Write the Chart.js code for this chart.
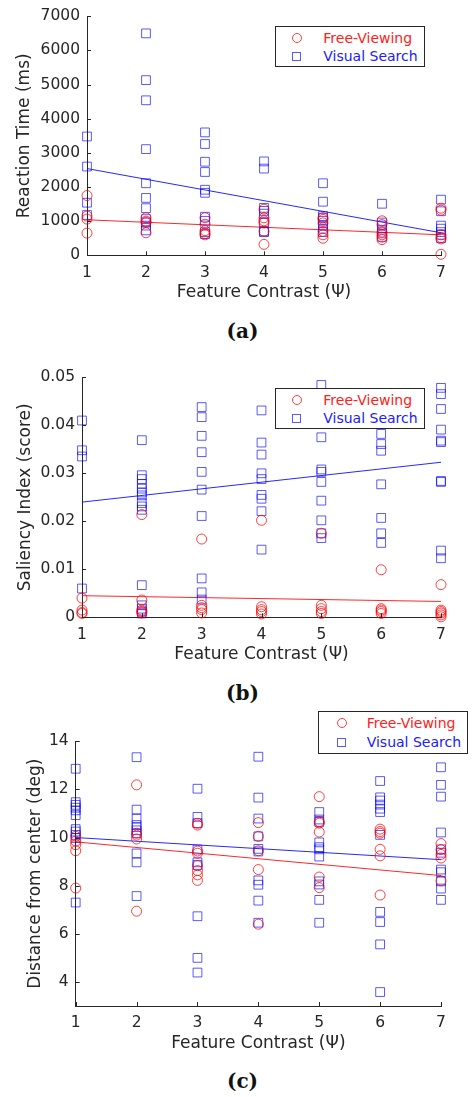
<!DOCTYPE html>
<html>
<head>
<meta charset="utf-8">
<script src="https://cdn.jsdelivr.net/npm/chart.js@4.4.0/dist/chart.umd.min.js"></script>
<style>
  body { margin: 0; background: #fff; width: 472px; height: 1097px; position: relative; overflow: hidden; font-family: "DejaVu Sans", sans-serif; }
  canvas { position: absolute; left: 0; }
  .legend { position: absolute; width: 150px; background: #fff; border: 1px solid #262626; box-sizing: border-box; font-size: 14px; }
  .legend .mk { position: absolute; box-sizing: border-box; border: 1px solid; }
  .legend .tx { position: absolute; line-height: 16px; white-space: nowrap; }
  .caption { position: absolute; width: 80px; text-align: center; font-family: "DejaVu Serif", serif; font-weight: bold; font-size: 20px; color: #111; }
</style>
</head>
<body>
<canvas id="rt"></canvas>
<canvas id="sal"></canvas>
<canvas id="dist"></canvas>

<script>
// feature contrast levels (x categories)
const contrast = [1, 2, 3, 4, 5, 6, 7];
const seriesNames = ['Free-Viewing', 'Visual Search'];
const xTitle = 'Feature Contrast (\u03A8)';
const fitX = [1, 7];

// (a) reaction time, ms, one list per contrast level
const rtFree = [
  [1750, 1150, 1060, 650],
  [1100, 1000, 960, 660],
  [1100, 910, 720, 640, 600],
  [1350, 1100, 1010, 950, 700, 320],
  [1100, 1050, 950, 700, 600, 500],
  [1010, 900, 680, 600, 530, 460],
  [1380, 1320, 600, 520, 480, 30]
];
const rtSearch = [
  [3480, 2600, 1540, 1180],
  [6500, 5130, 4540, 3110, 2110, 1680, 1380, 1060, 960, 870, 730],
  [3600, 3260, 2740, 2440, 1920, 1830, 1130, 1010, 680, 620],
  [2750, 2540, 1390, 1300, 1220, 960, 700, 680],
  [2110, 1570, 1150, 1100, 1010, 870, 780, 680],
  [1510, 960, 870, 750, 640, 540],
  [1630, 1290, 870, 780, 680, 600, 500]
];
const rtFreeFit = [1040, 600];
const rtSearchFit = [2540, 660];
const rtTicks = [0, 1000, 2000, 3000, 4000, 5000, 6000, 7000];
const rtTickLabels = ['0', '1000', '2000', '3000', '4000', '5000', '6000', '7000'];

// (b) saliency index
const salFree = [
  [0.004, 0.0015, 0.001, 0.0008],
  [0.0214, 0.0036, 0.0015, 0.0012, 0.0009],
  [0.0163, 0.0025, 0.002, 0.0016, 0.0009],
  [0.0202, 0.0022, 0.0016, 0.0012, 0.0007],
  [0.0175, 0.0025, 0.0018, 0.0012, 0.0008],
  [0.0099, 0.0018, 0.0015, 0.0012, 0.0008],
  [0.0068, 0.0015, 0.0012, 0.0009, 0.0005, 0.0001]
];
const salSearch = [
  [0.041, 0.0348, 0.0335, 0.006],
  [0.0369, 0.0296, 0.0288, 0.0278, 0.0268, 0.026, 0.0254, 0.0238, 0.0231, 0.0224, 0.0067, 0.0025, 0.0018, 0.0012, 0.0008],
  [0.0438, 0.0417, 0.0378, 0.0344, 0.0303, 0.0266, 0.0211, 0.0081, 0.0052, 0.0037],
  [0.0431, 0.0364, 0.0339, 0.03, 0.0288, 0.0255, 0.0247, 0.0221, 0.0141],
  [0.0484, 0.0375, 0.0308, 0.0303, 0.0282, 0.0243, 0.0202, 0.0175, 0.0165],
  [0.0382, 0.0361, 0.0347, 0.0277, 0.0207, 0.0175, 0.0155],
  [0.0478, 0.0465, 0.0434, 0.0391, 0.0368, 0.0365, 0.0284, 0.0282, 0.0139, 0.0123]
];
const salFreeFit = [0.0045, 0.0033];
const salSearchFit = [0.024, 0.0323];
const salTicks = [0, 0.01, 0.02, 0.03, 0.04, 0.05];
const salTickLabels = ['0', '0.01', '0.02', '0.03', '0.04', '0.05'];

// (c) distance from center, deg
const distFree = [
  [10.05, 9.85, 9.7, 9.45, 7.9],
  [12.19, 10.18, 10.1, 9.94, 6.94],
  [10.59, 10.52, 9.44, 9.35, 8.83, 8.63, 8.45, 8.22],
  [10.62, 10.05, 9.45, 8.67, 6.4],
  [11.7, 10.66, 10.6, 10.23, 8.36, 7.92],
  [10.35, 10.25, 10.18, 9.51, 9.24, 7.61],
  [9.75, 9.5, 9.3, 9.15, 8.2]
];
const distSearch = [
  [12.86, 11.47, 11.36, 11.24, 11.13, 10.93, 10.35, 10.25, 10.11, 9.98, 7.3],
  [13.34, 11.16, 10.79, 10.52, 10.43, 10.3, 10.18, 9.34, 8.97, 7.57],
  [12.03, 10.86, 10.6, 9.5, 8.97, 8.86, 6.73, 5.0, 4.39],
  [13.36, 11.66, 10.79, 10.05, 9.53, 9.42, 8.22, 8.04, 7.38, 6.46],
  [11.06, 10.75, 10.65, 9.8, 9.6, 9.51, 9.21, 8.18, 8.05, 7.41, 6.46],
  [12.35, 11.67, 11.54, 11.37, 11.2, 11.06, 10.11, 6.91, 6.49, 5.56, 3.58],
  [12.92, 12.19, 11.7, 10.21, 9.51, 9.37, 8.67, 8.56, 8.18, 7.88, 7.41]
];
const distFreeFit = [9.82, 8.42];
const distSearchFit = [10.0, 9.08];
const distTicks = [4, 6, 8, 10, 12, 14];
const distTickLabels = ['4', '6', '8', '10', '12', '14'];

const RED = 'rgba(255,0,0,0.75)';
const BLUE = 'rgba(0,0,255,0.65)';
const AXIS = '#262626';

Chart.defaults.font.family = '"DejaVu Sans", sans-serif';
Chart.defaults.color = AXIS;

function points(groups) {
  const out = [];
  groups.forEach((vals, i) => vals.forEach(v => out.push({ x: contrast[i], y: v })));
  return out;
}
function fitLine(ends) {
  return fitX.map((x, i) => ({ x: x, y: ends[i] }));
}

// MATLAB-style ticks pointing into the plot
const inwardTicks = {
  id: 'inwardTicks',
  afterDatasetsDraw(chart) {
    const { ctx, chartArea: a, scales: { x, y } } = chart;
    ctx.save();
    ctx.strokeStyle = AXIS;
    ctx.lineWidth = 1;
    ctx.beginPath();
    x.ticks.forEach(t => {
      const px = Math.round(x.getPixelForValue(t.value)) + 0.5;
      ctx.moveTo(px, a.bottom);
      ctx.lineTo(px, a.bottom - 4);
    });
    y.ticks.forEach(t => {
      const py = Math.round(y.getPixelForValue(t.value)) + 0.5;
      ctx.moveTo(a.left, py);
      ctx.lineTo(a.left + 4, py);
    });
    ctx.stroke();
    ctx.restore();
  }
};

function makePanel(p) {
  const canvas = document.getElementById(p.id);
  const top = Math.floor(p.areaTop - 11);
  const height = Math.ceil(p.areaBottom + 55 - top);
  const xAxisH = top + height - p.areaBottom;
  canvas.width = 472;
  canvas.height = height;
  canvas.style.top = top + 'px';

  new Chart(canvas.getContext('2d'), {
    type: 'scatter',
    data: {
      datasets: [
        { label: seriesNames[0], data: points(p.free), pointStyle: 'circle', pointRadius: 5, pointBorderWidth: 1,
          borderColor: RED, backgroundColor: 'rgba(0,0,0,0)', clip: false },
        { label: seriesNames[1], data: points(p.search), pointStyle: 'rect', pointRadius: 6.2, pointBorderWidth: 1,
          borderColor: BLUE, backgroundColor: 'rgba(0,0,0,0)', clip: false },
        { label: seriesNames[0] + ' fit', data: fitLine(p.freeFit), showLine: true, pointRadius: 0,
          borderColor: 'rgba(255,0,0,0.85)', borderWidth: 1 },
        { label: seriesNames[1] + ' fit', data: fitLine(p.searchFit), showLine: true, pointRadius: 0,
          borderColor: 'rgba(0,0,255,0.85)', borderWidth: 1 }
      ]
    },
    options: {
      responsive: false,
      animation: false,
      devicePixelRatio: 1,
      layout: { padding: { top: p.areaTop - top, right: 31, bottom: 0, left: 0 } },
      plugins: { legend: { display: false }, tooltip: { enabled: false } },
      scales: {
        x: {
          type: 'linear', min: 1, max: 7,
          afterBuildTicks: s => { s.ticks = contrast.map(v => ({ value: v })); },
          afterFit: s => { s.height = xAxisH; },
          ticks: { padding: 8, font: { size: 15.5 }, color: AXIS, callback: (v, i) => String(contrast[i]) },
          grid: { display: true, drawOnChartArea: false, drawTicks: false },
          border: { display: true, color: AXIS, width: 1 },
          title: { display: true, text: xTitle, font: { size: 17 }, color: AXIS, padding: { top: 0, bottom: xAxisH - 47.4 } }
        },
        y: {
          type: 'linear', min: p.yMin, max: p.yMax,
          afterBuildTicks: s => { s.ticks = p.ticks.map(v => ({ value: v })); },
          afterFit: s => { s.width = p.areaLeft; },
          ticks: { padding: 7, font: { size: 15.5 }, color: AXIS, callback: (v, i) => p.tickLabels[i] },
          grid: { display: true, drawOnChartArea: false, drawTicks: false },
          border: { display: true, color: AXIS, width: 1 },
          title: { display: true, text: p.yTitle, font: { size: 17 }, color: AXIS, padding: { top: p.yTitleX - 10.2, bottom: 0 } }
        }
      }
    },
    plugins: [inwardTicks]
  });

  // legend box
  const lg = document.createElement('div');
  lg.className = 'legend';
  lg.style.left = p.legend[0] + 'px';
  lg.style.top = p.legend[1] + 'px';
  lg.style.height = p.legend[2] + 'px';
  const colors = ['#ff2020', '#2020ff'];
  const rows = [p.legend[3], p.legend[4]];
  seriesNames.forEach((name, i) => {
    const mk = document.createElement('div');
    mk.className = 'mk';
    const size = i === 0 ? 10 : 9;
    mk.style.width = size + 'px';
    mk.style.height = size + 'px';
    mk.style.borderColor = i === 0 ? RED : BLUE;
    if (i === 0) mk.style.borderRadius = '50%';
    mk.style.left = (p.legendMarkX - size / 2 - 1) + 'px';
    mk.style.top = (rows[i] - size / 2 - 1) + 'px';
    lg.appendChild(mk);
    const tx = document.createElement('div');
    tx.className = 'tx';
    tx.textContent = name;
    tx.style.color = colors[i];
    tx.style.left = (p.legendTextX - 1) + 'px';
    tx.style.top = (rows[i] - 9) + 'px';
    lg.appendChild(tx);
  });
  document.body.appendChild(lg);

  const cap = document.createElement('div');
  cap.className = 'caption';
  cap.textContent = p.caption;
  cap.style.left = (242.5 - 40) + 'px';
  cap.style.top = (p.captionY - 13) + 'px';
  document.body.appendChild(cap);
}

makePanel({ id: 'rt', free: rtFree, search: rtSearch, freeFit: rtFreeFit, searchFit: rtSearchFit,
  yMin: 0, yMax: 7000, ticks: rtTicks, tickLabels: rtTickLabels, yTitle: 'Reaction Time (ms)',
  areaTop: 11, areaBottom: 255.3, areaLeft: 87, yTitleX: 25,
  legend: [275, 26, 41, 11.7, 30], legendMarkX: 21.7, legendTextX: 48.3, caption: '(a)', captionY: 332 });

makePanel({ id: 'sal', free: salFree, search: salSearch, freeFit: salFreeFit, searchFit: salSearchFit,
  yMin: 0, yMax: 0.05, ticks: salTicks, tickLabels: salTickLabels, yTitle: 'Saliency Index (score)',
  areaTop: 372.7, areaBottom: 617.3, areaLeft: 82, yTitleX: 25.8,
  legend: [275, 388, 41, 11.7, 30], legendMarkX: 21.7, legendTextX: 48.3, caption: '(b)', captionY: 694 });

makePanel({ id: 'dist', free: distFree, search: distSearch, freeFit: distFreeFit, searchFit: distSearchFit,
  yMin: 3, yMax: 14, ticks: distTicks, tickLabels: distTickLabels, yTitle: 'Distance from center (deg)',
  areaTop: 736, areaBottom: 1006, areaLeft: 75.7, yTitleX: 35.5,
  legend: [318, 711, 43, 11.7, 31.3], legendMarkX: 23.7, legendTextX: 48.7, caption: '(c)', captionY: 1082 });
</script>
</body>
</html>
